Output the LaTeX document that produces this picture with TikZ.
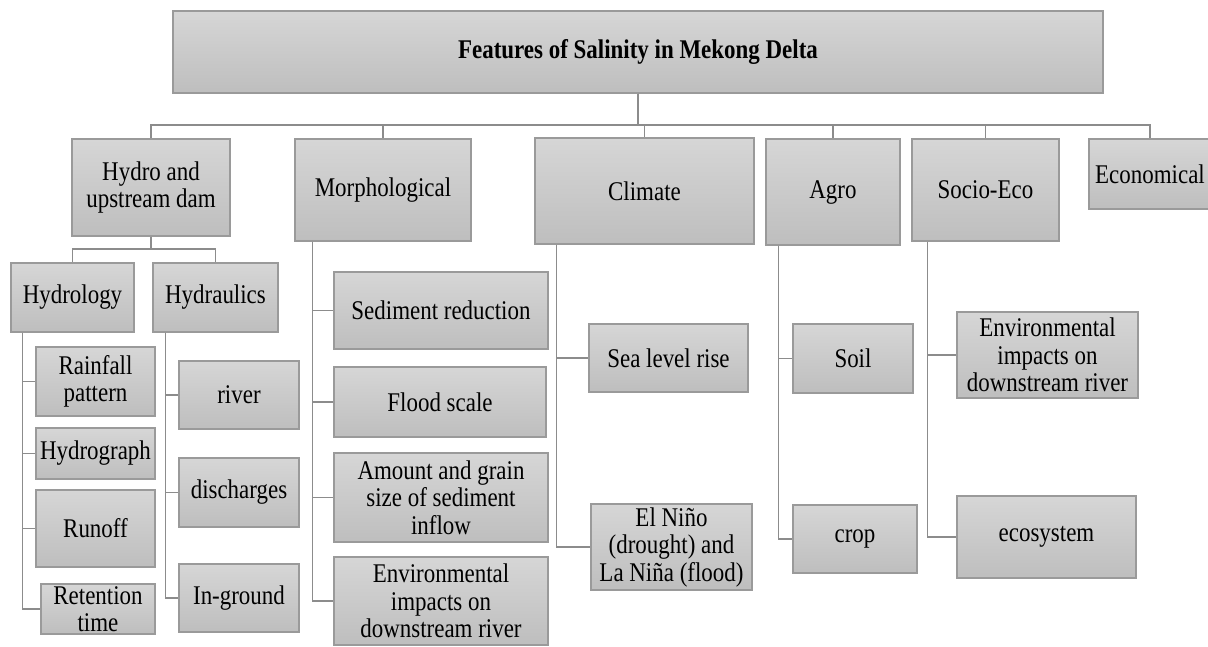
\documentclass[tikz,border=0pt]{standalone}
\usepackage{fontspec}
\setmainfont{Liberation Serif}[FakeStretch=0.85]
\usetikzlibrary{calc}
\definecolor{boxtop}{HTML}{D6D6D6}
\definecolor{boxbot}{HTML}{BEBEBE}
\definecolor{boxline}{HTML}{9A9A9A}
\definecolor{connline}{HTML}{8C8C8C}
\tikzset{
  box/.style={rectangle, draw=boxline, line width=1.1pt, top color=boxtop, bottom color=boxbot,
    inner sep=0pt, align=center, font=\fontsize{27}{27.5}\selectfont, text=black},
  conn/.style={draw=connline, line width=1.4pt},
}
\newcommand\bx[6]{\node[box, minimum width=#4pt, minimum height=#5pt] (#1) at (#2,#3) {#6};}
\begin{document}
\begin{tikzpicture}[x=1pt, y=-1pt]
\useasboundingbox (0,0) rectangle (1208,646);
\fill[white] (0,0) rectangle (1208,646);

% top level
\bx{title}{638}{52}{930}{82}{\bfseries Features of Salinity in Mekong Delta}
\bx{hydro}{151}{187.5}{158}{97}{Hydro and\\upstream dam}
\bx{morph}{383}{190}{176}{102}{Morphological}
\bx{climate}{644.5}{191}{219}{106}{Climate}
\bx{agro}{833}{192}{134}{106}{Agro}
\bx{socio}{985.5}{190}{147}{102}{Socio-Eco}
\bx{econ}{1150}{174}{122}{70}{Economical}

% hydro level 2
\bx{hydrology}{72.5}{297.5}{123}{69}{Hydrology}
\bx{hydraulics}{215.5}{297.5}{125}{69}{Hydraulics}

% hydrology children
\bx{rain}{95.5}{381.5}{119}{69}{Rainfall\\pattern}
\bx{hgraph}{95.5}{453.5}{119}{51}{Hydrograph}
\bx{runoff}{95.5}{528.5}{119}{77}{Runoff}
\bx{retention}{98}{609}{114}{50}{Retention\\time}

% hydraulics children
\bx{river}{239}{395}{120}{68}{river}
\bx{discharges}{239}{492.5}{120}{69}{discharges}
\bx{inground}{239}{598}{120}{68}{In-ground}

% morphological children
\bx{sed}{441}{310.5}{214}{77}{Sediment reduction}
\bx{flood}{440}{402}{212}{70}{Flood scale}
\bx{amount}{441}{497.5}{214}{89}{Amount and grain\\size of sediment\\inflow}
\bx{envm}{441}{601}{214}{88}{Environmental\\impacts on\\downstream river}

% climate children
\bx{sea}{668.5}{358}{159}{68}{Sea level rise}
\bx{nino}{671.5}{547}{161}{86}{El Niño\\(drought) and\\La Niña (flood)}

% agro children
\bx{soil}{853}{358.5}{120}{69}{Soil}
\bx{crop}{855}{539}{124}{68}{crop}

% socio children
\bx{envs}{1047.5}{355}{181}{86}{Environmental\\impacts on\\downstream river}
\bx{eco}{1046.5}{537}{179}{82}{ecosystem}

% connectors: top bus
\coordinate (bus) at (0,125);
\foreach \n in {hydro,morph,climate,agro,socio,econ}{
  \draw[conn] (title.south) -- (title.south |- bus) -| (\n.north);
}
% hydro bus
\coordinate (hbus) at (0,249);
\foreach \n in {hydrology,hydraulics}{
  \draw[conn] (hydro.south) -- (hydro.south |- hbus) -| (\n.north);
}
% hanging stems
\coordinate (hyS) at ($(hydrology.south west)+(12,0)$);
\foreach \n in {rain,hgraph,runoff,retention}{ \draw[conn] (hyS) |- (\n.west); }
\coordinate (haS) at ($(hydraulics.south west)+(13,0)$);
\foreach \n in {river,discharges,inground}{ \draw[conn] (haS) |- (\n.west); }
\coordinate (moS) at ($(morph.south west)+(18,0)$);
\foreach \n in {sed,flood,amount,envm}{ \draw[conn] (moS) |- (\n.west); }
\coordinate (clS) at ($(climate.south west)+(22,0)$);
\foreach \n in {sea,nino}{ \draw[conn] (clS) |- (\n.west); }
\coordinate (agS) at ($(agro.south west)+(13,0)$);
\foreach \n in {soil,crop}{ \draw[conn] (agS) |- (\n.west); }
\coordinate (soS) at ($(socio.south west)+(16,0)$);
\foreach \n in {envs,eco}{ \draw[conn] (soS) |- (\n.west); }
\end{tikzpicture}
\end{document}
